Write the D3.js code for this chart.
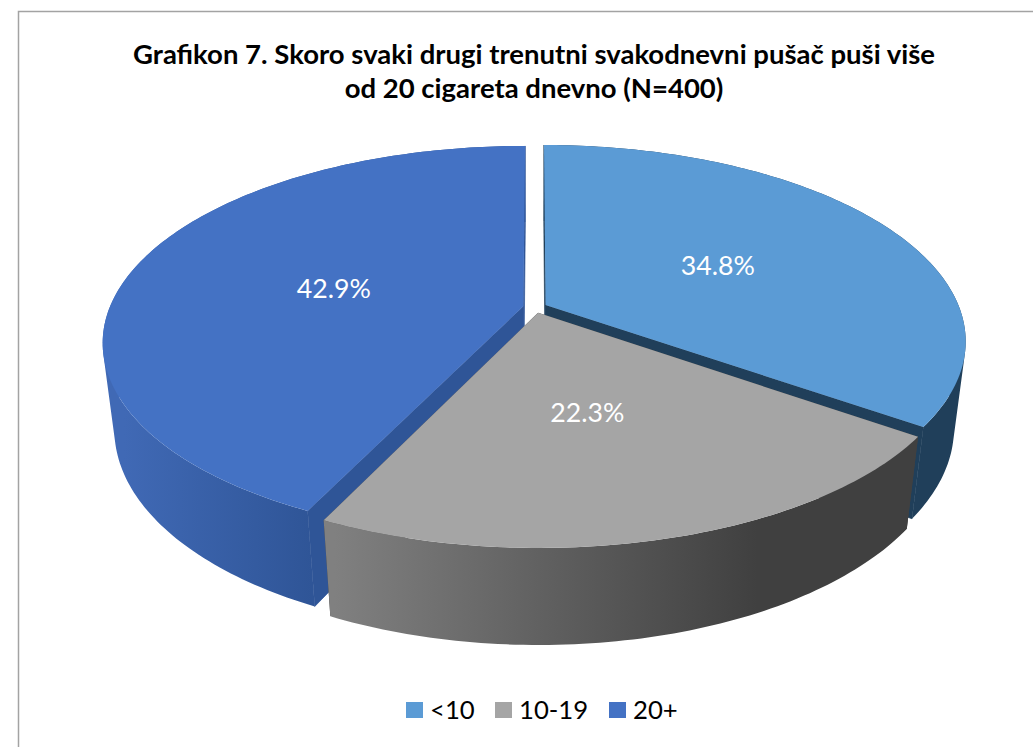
<!DOCTYPE html>
<html>
<head>
<meta charset="utf-8">
<script src="https://cdn.jsdelivr.net/npm/d3@7"></script>
<style>
  html, body { margin: 0; padding: 0; background: #fff; }
  svg { display: block; font-family: Lato, "Open Sans", sans-serif; }
</style>
</head>
<body>
<div id="chart"></div>
<script>
// Chart data
const titleLines = [
    "Grafikon 7. Skoro svaki drugi trenutni svakodnevni pušač puši više",
    "od 20 cigareta dnevno (N=400)"
];
const categories = ["<10", "10-19", "20+"];
const shares = [34.8, 22.3, 42.9];
const shareLabels = ["34.8%", "22.3%", "42.9%"];

// Colours per slice
const topColors = ["#5b9bd5", "#a5a5a5", "#4472c4"];
const innerColors = ["#203f5a", "#404040", "#2f5597"];

const width = 1033;
const height = 747;
const svg = d3.select("#chart").append("svg")
    .attr("width", width)
    .attr("height", height);
const defs = svg.append("defs");

// Frame runs off the right and bottom of the picture
svg.append("path")
    .attr("d", `M18.5,${height}V11.5H${width}`)
    .attr("fill", "none")
    .attr("stroke", "#a3a3a3")
    .attr("stroke-width", 1.5);

// Title
svg.append("g").selectAll("text")
    .data(titleLines)
    .join("text")
    .attr("x", 534)
    .attr("y", (d, i) => 63.5 + i * 34.5)
    .attr("text-anchor", "middle")
    .attr("font-size", 27.5)
    .attr("font-weight", 700)
    .attr("fill", "#000")
    .text(d => d);

// Perspective projection of the pie plane, fitted to the picture
const cx = 535, cy = 307.5;
const rx = 413.7, ry = 190;
const tilt = 0.1824;       // how quickly the far side shrinks
const explode = 0.029;     // slice offset, in pie radii
const depth = { y: 88, w: 0.027 };   // the lower face of the pie

function project(u, v, lower) {
    const w = 1 + tilt * v + (lower ? depth.w : 0);
    return [
        cx + rx * u / w,
        cy + (-ry * v + (lower ? depth.y : 0)) / w
    ];
}

const pie = d3.pie().sort(null).value(d => d);
const arcs = pie(shares);
const line = d3.line();
const rad = d3.scaleLinear().domain([0, 360]).range([0, 2 * Math.PI]);

// Wall shading: angle where the gradient starts and ends, and its colours
const wallShade = [
    { from: 0, to: 180, colors: ["#203f5a", "#203f5a"] },
    { from: 205, to: 153, colors: ["#808080", "#404040"] },
    { from: 206, to: 272, colors: ["#2f5597", "#4069b5"] }
];

// Value label placement: share of the pie radius, and turn off the middle radius in degrees
const labelRadius = [0.49, 0.48, 0.48];
const labelTurn = [0, 1.6, 0];

// Far slices first, the grey one sits in front of both neighbours
const drawOrder = [0, 2, 1];
const pieGroup = svg.append("g");

drawOrder.forEach(i => {
    const a = arcs[i];
    const mid = (a.startAngle + a.endAngle) / 2;
    const ox = explode * Math.sin(mid);
    const oy = explode * Math.cos(mid);
    const g = pieGroup.append("g");

    const rim = (angle, lower) =>
        project(ox + Math.sin(angle), oy + Math.cos(angle), lower);

    // cut faces (the grey slice's are hidden, so no stroke there or it peeks out)
    [a.startAngle, a.endAngle].forEach(angle => {
        g.append("path")
            .attr("d", line([
                project(ox, oy, false),
                rim(angle, false),
                rim(angle, true),
                project(ox, oy, true)
            ]) + "Z")
            .attr("fill", innerColors[i])
            .attr("stroke", i === 1 ? "none" : innerColors[i])
            .attr("stroke-width", 0.7);
    });

    const steps = Math.ceil((a.endAngle - a.startAngle) / rad(1));
    const angles = d3.range(steps + 1)
        .map(k => a.startAngle + (a.endAngle - a.startAngle) * k / steps);

    // outer wall
    const shade = wallShade[i];
    const grad = defs.append("linearGradient")
        .attr("id", `wall${i}`)
        .attr("gradientUnits", "userSpaceOnUse")
        .attr("x1", rim(rad(shade.from), true)[0])
        .attr("x2", rim(rad(shade.to), true)[0])
        .attr("y1", 0)
        .attr("y2", 0);
    grad.selectAll("stop")
        .data(shade.colors)
        .join("stop")
        .attr("offset", (d, k) => k)
        .attr("stop-color", d => d);

    // one subpath per degree, all wound the same way so the turn at the
    // left and right edge of the pie does not cancel out
    const wall = d3.pairs(angles).map(([a0, a1]) => {
        const quad = [rim(a0, false), rim(a1, false), rim(a1, true), rim(a0, true)];
        if (d3.polygonArea(quad) < 0) quad.reverse();
        return line(quad) + "Z";
    }).join("");
    g.append("path")
        .attr("d", wall)
        .attr("fill", `url(#wall${i})`);

    // top face
    g.append("path")
        .attr("d", line([project(ox, oy, false), ...angles.map(t => rim(t, false))]) + "Z")
        .attr("fill", topColors[i]);
});

// Value labels, on each slice's middle radius
svg.append("g").selectAll("text")
    .data(arcs)
    .join("text")
    .attr("transform", (d, i) => {
        const mid = (d.startAngle + d.endAngle) / 2;
        const turned = mid + rad(labelTurn[i]);
        const p = project(
            labelRadius[i] * Math.sin(turned) + explode * Math.sin(mid),
            labelRadius[i] * Math.cos(turned) + explode * Math.cos(mid),
            false);
        return `translate(${p})`;
    })
    .attr("text-anchor", "middle")
    .attr("dy", "0.42em")
    .attr("font-size", 26.7)
    .attr("fill", "#fff")
    .text((d, i) => shareLabels[i]);

// Legend
const legendX = d3.scaleOrdinal().domain(categories).range([406, 495, 609]);
const legend = svg.append("g").selectAll("g")
    .data(categories)
    .join("g")
    .attr("transform", d => `translate(${legendX(d)},702)`);

legend.append("rect")
    .attr("width", 17)
    .attr("height", 16)
    .attr("fill", (d, i) => topColors[i]);

legend.append("text")
    .attr("x", 24)
    .attr("y", 16.5)
    .attr("font-size", 25.7)
    .attr("fill", "#000")
    .text(d => d);
</script>
</body>
</html>
